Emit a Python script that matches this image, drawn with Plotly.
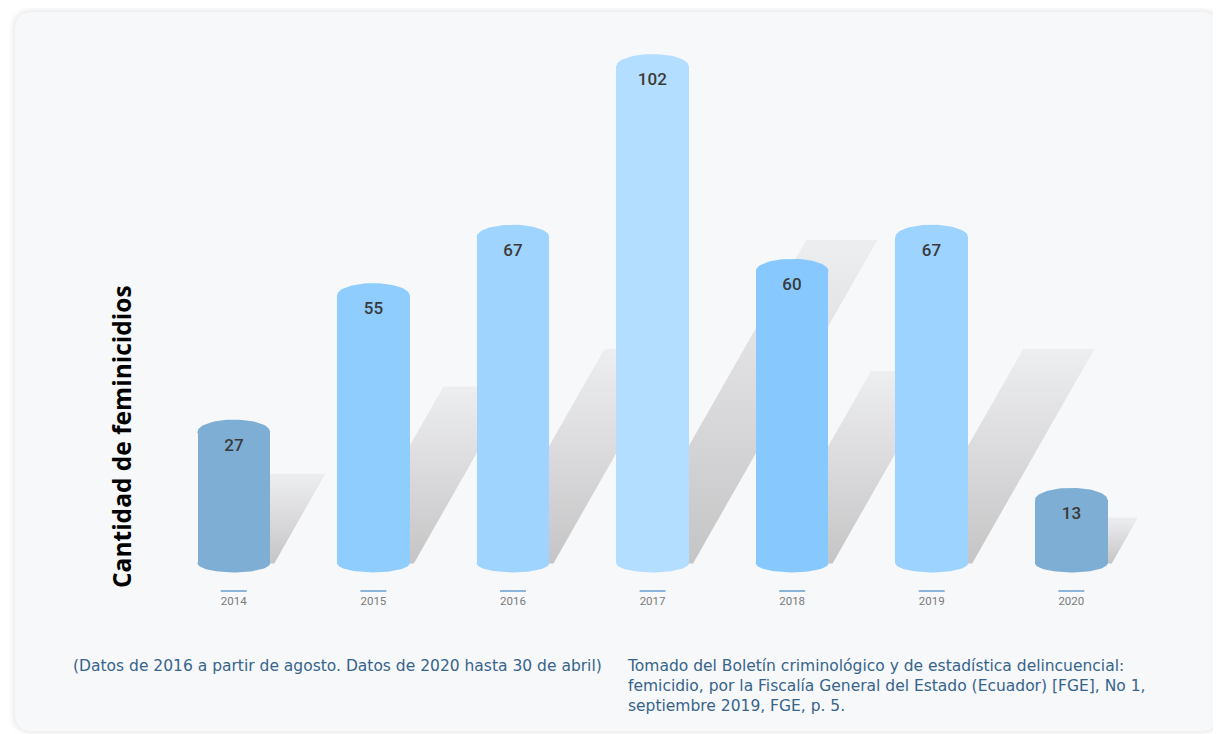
import numpy as np
import plotly.graph_objects as go

years = ["2014", "2015", "2016", "2017", "2018", "2019", "2020"]
feminicidios = [27, 55, 67, 102, 60, 67, 13]
bar_colors = ["#7eaed3", "#8fcdff", "#9fd4ff", "#b3deff", "#87c9ff", "#9dd3ff", "#7eaed3"]

y_title = "Cantidad de feminicidios"
note_left = "(Datos de 2016 a partir de agosto. Datos de 2020 hasta 30 de abril)"
note_right = ("Tomado del Boletín criminológico y de estadística delincuencial:<br>"
              "femicidio, por la Fiscalía General del Estado (Ecuador) [FGE], No 1,<br>"
              "septiembre 2019, FGE, p. 5.")

OFF = 8                      # page body margin
W, H = 1221 - OFF, 734 - OFF
ML, MT = 164 - OFF, 40 - OFF
MR, MB = 45, 156
XR = [-0.5, 6.75]
YR = [-3, 107.4]
HALF = 0.26      # half bar width (x units)
CAP = 2.5        # top cap half height (y units)
BOT = 1.85       # bottom cap half height (y units)

xs = list(range(len(years)))
fig = go.Figure()

# layer 1: shadows (skewed, gradient)
for i, v in zip(xs, feminicidios):
    h = 0.64 * (v + CAP) - 0.5
    dx = 0.0199 * h
    px = [i - 0.22, i + 0.29, i + 0.29 + dx, i - 0.22 + dx, i - 0.22]
    py = [0, 0, h, h, 0]
    fig.add_trace(go.Scatter(
        x=px, y=py, mode="lines", fill="toself", line=dict(width=0),
        fillgradient=dict(type="vertical",
                          colorscale=[[0, "rgb(197,197,198)"], [0.55, "rgb(220,220,222)"],
                                      [1, "rgb(237,238,240)"]]),
        hoverinfo="skip", showlegend=False, xaxis="x", yaxis="y"))

# layer 2: cylinder caps (top & bottom ellipses)
t = np.linspace(0, 2 * np.pi, 80)
for i, v, c in zip(xs, feminicidios, bar_colors):
    for yc, hh in ((v, CAP), (0, BOT)):
        fig.add_trace(go.Scatter(
            x=i + HALF * np.cos(t), y=yc + hh * np.sin(t), mode="lines",
            fill="toself", fillcolor=c, line=dict(width=0, color=c),
            hoverinfo="skip", showlegend=False, xaxis="x2", yaxis="y2"))

# layer 3: bars
fig.add_trace(go.Bar(
    x=xs, y=feminicidios, width=2 * HALF, marker=dict(color=bar_colors, line=dict(width=0)),
    text=[str(v) for v in feminicidios], textposition="inside", insidetextanchor="end",
    textangle=0, insidetextfont=dict(family="Roboto", size=17, color="#3a3a3a", weight=500),
    showlegend=False, xaxis="x3", yaxis="y3"))

# card background
PW, PH = W - ML - MR, H - MT - MB

def px2x(p):
    return (p - OFF - ML) / PW

def py2y(p):
    return (H - MB - (p - OFF)) / PH

def rounded(x0, y0, x1, y1, r):
    rx, ry = r / PW, r / PH
    X0, X1 = px2x(x0), px2x(x1)
    Y0, Y1 = py2y(y1), py2y(y0)
    return (f"M {X0+rx},{Y1} L {X1-rx},{Y1} Q {X1},{Y1} {X1},{Y1-ry} "
            f"L {X1},{Y0+ry} Q {X1},{Y0} {X1-rx},{Y0} L {X0+rx},{Y0} "
            f"Q {X0},{Y0} {X0},{Y0+ry} L {X0},{Y1-ry} Q {X0},{Y1} {X0+rx},{Y1} Z")

shapes = []
for k, a in ((6, 0.012), (4, 0.018), (2, 0.025)):
    shapes.append(dict(type="path", xref="paper", yref="paper", layer="below",
                       path=rounded(15 - k, 12 - k, 1218 + k, 731 + k, 18 + k),
                       fillcolor=f"rgba(0,0,0,{a})", line=dict(width=0)))
shapes.append(dict(type="path", xref="paper", yref="paper", layer="below",
                   path=rounded(15, 12, 1218, 731, 18),
                   fillcolor="#f7f8fa", line=dict(width=0)))

# short blue marks above the year labels
unit_px = PW / (XR[1] - XR[0])
for i in xs:
    shapes.append(dict(type="line", xref="x", yref="paper",
                       x0=i - 13 / unit_px, x1=i + 13 / unit_px,
                       y0=py2y(591), y1=py2y(591),
                       line=dict(color="#6a9fd0", width=1.5)))

annotations = [
    dict(text=y_title, textangle=-90, xref="paper", yref="paper",
         x=px2x(121), y=py2y(437), xanchor="center", yanchor="middle", showarrow=False,
         font=dict(family="Open Sans", size=24.5, color="#000000", weight="bold")),
    dict(text=note_left, xref="paper", yref="paper", x=px2x(71), y=py2y(666),
         xanchor="left", yanchor="middle", showarrow=False,
         font=dict(family="DejaVu Sans", size=15.5, color="#36648b")),
    dict(text=note_right, xref="paper", yref="paper", x=px2x(625), y=py2y(655),
         xanchor="left", yanchor="top", align="left", showarrow=False,
         font=dict(family="DejaVu Sans", size=15.5, color="#36648b")),
]

fig.update_layout(
    width=W, height=H, margin=dict(l=ML, r=MR, t=MT, b=MB),
    paper_bgcolor="#ffffff", plot_bgcolor="rgba(0,0,0,0)",
    shapes=shapes, annotations=annotations, bargap=0,
    xaxis=dict(range=XR, tickvals=xs, ticktext=years, showgrid=False, zeroline=False,
               showline=False, ticks="", ticklabelstandoff=14,
               tickfont=dict(family="Roboto", size=11.5, color="#7a7a7a")),
    yaxis=dict(range=YR, visible=False, showgrid=False, zeroline=False),
    xaxis2=dict(range=XR, overlaying="x", visible=False, showgrid=False, zeroline=False),
    yaxis2=dict(range=YR, overlaying="y", visible=False, showgrid=False, zeroline=False),
    xaxis3=dict(range=XR, overlaying="x", visible=False, showgrid=False, zeroline=False),
    yaxis3=dict(range=YR, overlaying="y", visible=False, showgrid=False, zeroline=False),
)

fig.write_html("out.html")
